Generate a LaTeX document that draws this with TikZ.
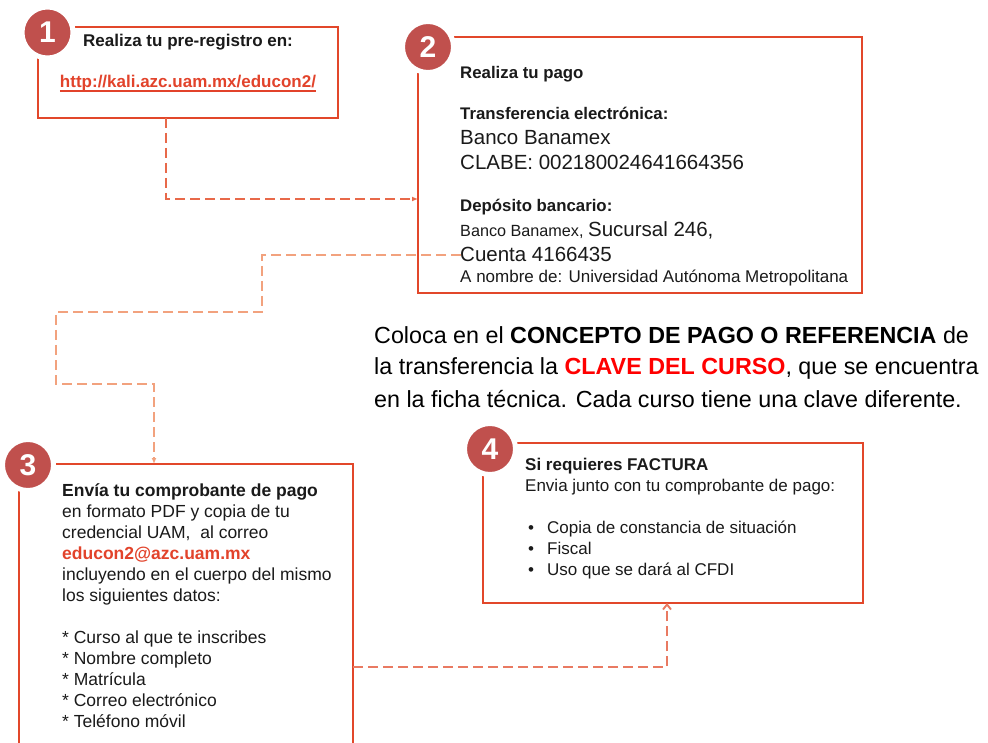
\documentclass[tikz,border=0pt]{standalone}
\usepackage{fontspec}
\setmainfont{Liberation Sans}
\usetikzlibrary{arrows.meta}
\definecolor{boxred}{HTML}{E2472A}
\definecolor{circred}{HTML}{C0504D}
\definecolor{linkred}{HTML}{E2432B}
\definecolor{dashA}{HTML}{E8694A}
\definecolor{dashB}{HTML}{F2A27E}
\definecolor{dashC}{HTML}{E97A62}
\definecolor{txt}{HTML}{1A1A1A}
\newcommand\fsz[2]{\fontsize{#1}{#2}\selectfont}
\begin{document}
\begin{tikzpicture}[x=1pt,y=-1pt,
  stepbox/.style={draw=boxred, line width=2pt, inner sep=0pt, outer sep=0pt, anchor=north west},
  badge/.style={circle, fill=circred, draw=white, line width=5pt, minimum size=51pt, inner sep=0pt, text=white, font=\fsz{30}{30}\bfseries},
  txtline/.style={anchor=base west, inner sep=0pt, text=txt},
  conn/.style={dash pattern=on 10pt off 5pt, line width=1.9pt},
]
\useasboundingbox (0,0) rectangle (988,743);
\fill[white] (0,0) rectangle (988,743);
\clip (0,0) rectangle (988,743);

% boxes
\node[stepbox, minimum width=300pt, minimum height=91pt] (box1) at (38,27) {};
\node[stepbox, minimum width=444pt, minimum height=256pt] (box2) at (418,37) {};
\node[stepbox, minimum width=334pt, minimum height=316pt] (box3) at (19,464) {};
\node[stepbox, minimum width=380pt, minimum height=160pt] (box4) at (483,443) {};

% connectors
\coordinate (cstart) at (461,255);
\draw[conn, draw=dashA, -{Latex[length=6pt,width=5pt]}] ([xshift=128pt]box1.south west) |- (box2.west |- 0,199);
\draw[conn, draw=dashB, -{Latex[length=6pt,width=5pt]}] (cstart) -- (262,255) -- (262,312) -- (56,312) -- (56,384) -- (154,384) -- (154,0 |- box3.north);
\draw[conn, draw=dashC, -{Straight Barb[length=5pt,width=8pt]}] (box3.east |- 0,667) -| (667,0 |- box4.south);

% badges
\node[badge] (n1) at (47.5,32.5) {1};
\node[badge] (n2) at (428,47) {2};
\node[badge] (n3) at (28,465) {3};
\node[badge] (n4) at (490,449) {4};

% box 1 text
\node[txtline] (t1a) at (83,47) {\fsz{17}{20}\bfseries Realiza tu pre-registro en:};
\node[anchor=base, inner sep=0pt, text=linkred] (t1b) at (188,88) {\fsz{17}{20}\bfseries http://kali.azc.uam.mx/educon2/};
\draw[linkred, line width=1.1pt] ([yshift=-3pt]t1b.base west) -- ([yshift=-3pt]t1b.base east);

% box 2 text
\node[txtline] (t2a) at (460,79) {\fsz{16.8}{20}\bfseries Realiza tu pago};
\node[txtline] (t2b) at (460,120) {\fsz{16.8}{20}\bfseries Transferencia electrónica:};
\node[txtline] (t2c) at (460,145) {\fsz{20.5}{24}Banco Banamex};
\node[txtline] (t2d) at (460,170) {\fsz{20.5}{24}CLABE: 002180024641664356};
\node[txtline] (t2e) at (460,212) {\fsz{16.8}{20}\bfseries Depósito bancario:};
\node[txtline] (t2f) at (460,237) {{\fsz{16.2}{20}Banco Banamex, }{\fsz{20.5}{24}Sucursal 246,}};
\node[txtline] (t2g) at (460,262) {\fsz{20.5}{24}Cuenta 4166435};
\node[txtline] (t2h) at (460,283) {\fsz{17}{20}A nombre de: Universidad Autónoma Metropolitana};

% middle text
\node[txtline, text=black] (m1) at (374,344) {\fsz{23.3}{28}Coloca en el \textbf{CONCEPTO DE PAGO O REFERENCIA} de};
\node[txtline, text=black] (m2) at (374,374) {\fsz{23.3}{28}la transferencia la \textcolor{red}{\textbf{CLAVE DEL CURSO}}, que se encuentra};
\node[txtline, text=black] (m3) at (374,407) {\fsz{23.3}{28}en la ficha técnica. Cada curso tiene una clave diferente.};

% box 3 text
\node[txtline] (t3) at (62,496) {\parbox[t]{285pt}{\fsz{17.5}{21}\raggedright
\textbf{Envía tu comprobante de pago}\\
en formato PDF y copia de tu\\
credencial UAM,\ \ al correo\\
{\color{linkred}\bfseries educon2@azc.uam.mx}\\
incluyendo en el cuerpo del mismo\\
los siguientes datos:\\[21pt]
{*} Curso al que te inscribes\\
{*} Nombre completo\\
{*} Matrícula\\
{*} Correo electrónico\\
{*} Teléfono móvil}};

% box 4 text
\node[txtline] (t4) at (525,470) {\parbox[t]{330pt}{\fsz{17}{21}\raggedright
\textbf{Si requieres FACTURA}\\
Envia junto con tu comprobante de pago:\\[21pt]
\hspace*{3pt}\makebox[19pt][l]{\textbullet}Copia de constancia de situación\\
\hspace*{3pt}\makebox[19pt][l]{\textbullet}Fiscal\\
\hspace*{3pt}\makebox[19pt][l]{\textbullet}Uso que se dará al CFDI}};
\end{tikzpicture}
\end{document}
